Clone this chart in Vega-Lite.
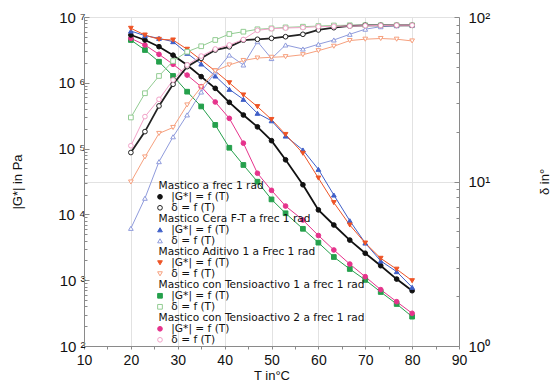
{
"$schema": "https://vega.github.io/schema/vega-lite/v6.json",
"width": 375, "height": 329,
"autosize": {"type": "none"},
"padding": {"left": 84, "top": 17, "right": 97, "bottom": 43},
"background": "white",
"data": {"values": [
{"T":20,"s":"g4","v":4470000},{"T":23,"s":"g4","v":3150000},{"T":26,"s":"g4","v":2090000},{"T":29,"s":"g4","v":1270000},{"T":32,"s":"g4","v":733000},{"T":35,"s":"g4","v":437000},{"T":38,"s":"g4","v":229000},{"T":41,"s":"g4","v":103000},{"T":44,"s":"g4","v":56400},{"T":47,"s":"g4","v":31400},{"T":50,"s":"g4","v":16900},{"T":53,"s":"g4","v":10400},{"T":56.7,"s":"g4","v":6040},{"T":60,"s":"g4","v":3720},{"T":63.3,"s":"g4","v":2250},{"T":66.7,"s":"g4","v":1480},{"T":70,"s":"g4","v":1010},{"T":73.3,"s":"g4","v":662},{"T":76.7,"s":"g4","v":435},{"T":80,"s":"g4","v":279},
{"T":20,"s":"g5","v":4740000},{"T":23,"s":"g5","v":3750000},{"T":26,"s":"g5","v":2710000},{"T":29,"s":"g5","v":1910000},{"T":32,"s":"g5","v":1310000},{"T":35,"s":"g5","v":873000},{"T":38,"s":"g5","v":511000},{"T":41,"s":"g5","v":288000},{"T":44,"s":"g5","v":121000},{"T":47,"s":"g5","v":42200},{"T":50,"s":"g5","v":23200},{"T":53,"s":"g5","v":13400},{"T":56.7,"s":"g5","v":8220},{"T":60,"s":"g5","v":4780},{"T":63.3,"s":"g5","v":2880},{"T":66.7,"s":"g5","v":1760},{"T":70,"s":"g5","v":1130},{"T":73.3,"s":"g5","v":718},{"T":76.7,"s":"g5","v":471},{"T":80,"s":"g5","v":314},
{"T":20,"s":"g1","v":5330000},{"T":23,"s":"g1","v":4470000},{"T":26,"s":"g1","v":3540000},{"T":29,"s":"g1","v":2630000},{"T":32,"s":"g1","v":1860000},{"T":35,"s":"g1","v":1240000},{"T":38,"s":"g1","v":824000},{"T":41,"s":"g1","v":505000},{"T":44,"s":"g1","v":324000},{"T":47,"s":"g1","v":214000},{"T":50,"s":"g1","v":132000},{"T":53,"s":"g1","v":67600},{"T":56.7,"s":"g1","v":28200},{"T":60,"s":"g1","v":11700},{"T":63.3,"s":"g1","v":6900},{"T":66.7,"s":"g1","v":4070},{"T":70,"s":"g1","v":2570},{"T":73.3,"s":"g1","v":1660},{"T":76.7,"s":"g1","v":1040},{"T":80,"s":"g1","v":692},
{"T":20,"s":"g2","v":6120000},{"T":23,"s":"g2","v":5200000},{"T":26,"s":"g2","v":4740000},{"T":29,"s":"g2","v":4220000},{"T":32,"s":"g2","v":2810000},{"T":35,"s":"g2","v":1930000},{"T":38,"s":"g2","v":1270000},{"T":41,"s":"g2","v":796000},{"T":44,"s":"g2","v":561000},{"T":47,"s":"g2","v":344000},{"T":50,"s":"g2","v":265000},{"T":53,"s":"g2","v":155000},{"T":56.7,"s":"g2","v":95300},{"T":60,"s":"g2","v":48400},{"T":63.3,"s":"g2","v":19700},{"T":66.7,"s":"g2","v":8020},{"T":70,"s":"g2","v":3670},{"T":73.3,"s":"g2","v":1960},{"T":76.7,"s":"g2","v":1350},{"T":80,"s":"g2","v":780},
{"T":20,"s":"g3","v":6730000},{"T":23,"s":"g3","v":5320000},{"T":26,"s":"g3","v":4580000},{"T":29,"s":"g3","v":4470000},{"T":32,"s":"g3","v":3230000},{"T":35,"s":"g3","v":2220000},{"T":38,"s":"g3","v":1510000},{"T":41,"s":"g3","v":1000000},{"T":44,"s":"g3","v":653000},{"T":47,"s":"g3","v":434000},{"T":50,"s":"g3","v":277000},{"T":53,"s":"g3","v":164000},{"T":56.7,"s":"g3","v":84900},{"T":60,"s":"g3","v":35700},{"T":63.3,"s":"g3","v":15100},{"T":66.7,"s":"g3","v":6900},{"T":70,"s":"g3","v":3670},{"T":73.3,"s":"g3","v":2150},{"T":76.7,"s":"g3","v":1470},{"T":80,"s":"g3","v":982},
{"T":20,"s":"d4","v":24.5},{"T":23,"s":"d4","v":34.4},{"T":26,"s":"d4","v":43.8},{"T":29,"s":"d4","v":54.0},{"T":32,"s":"d4","v":61.5},{"T":35,"s":"d4","v":66.4},{"T":38,"s":"d4","v":72.5},{"T":41,"s":"d4","v":78.8},{"T":44,"s":"d4","v":81.4},{"T":47,"s":"d4","v":84.2},{"T":50,"s":"d4","v":85.3},{"T":53,"s":"d4","v":86.5},{"T":56.7,"s":"d4","v":87.3},{"T":60,"s":"d4","v":88.1},{"T":63.3,"s":"d4","v":88.8},{"T":66.7,"s":"d4","v":89.1},{"T":70,"s":"d4","v":89.1},{"T":73.3,"s":"d4","v":89.1},{"T":76.7,"s":"d4","v":89.1},{"T":80,"s":"d4","v":89.1},
{"T":20,"s":"d2","v":5.19},{"T":23,"s":"d2","v":7.91},{"T":26,"s":"d2","v":13.2},{"T":29,"s":"d2","v":18.7},{"T":32,"s":"d2","v":25.4},{"T":35,"s":"d2","v":35.0},{"T":38,"s":"d2","v":46.3},{"T":41,"s":"d2","v":58.7},{"T":44,"s":"d2","v":51.1},{"T":47,"s":"d2","v":70.8},{"T":50,"s":"d2","v":55.9},{"T":53,"s":"d2","v":67.6},{"T":56.7,"s":"d2","v":63.9},{"T":60,"s":"d2","v":68.3},{"T":63.3,"s":"d2","v":72.5},{"T":66.7,"s":"d2","v":78.5},{"T":70,"s":"d2","v":84.3},{"T":73.3,"s":"d2","v":87.3},{"T":76.7,"s":"d2","v":88.5},{"T":80,"s":"d2","v":89.1},
{"T":20,"s":"d3","v":9.93},{"T":23,"s":"d3","v":14.1},{"T":26,"s":"d3","v":19.6},{"T":29,"s":"d3","v":21.3},{"T":32,"s":"d3","v":29.2},{"T":35,"s":"d3","v":37.5},{"T":38,"s":"d3","v":47.0},{"T":41,"s":"d3","v":51.1},{"T":44,"s":"d3","v":54.4},{"T":47,"s":"d3","v":56.3},{"T":50,"s":"d3","v":56.9},{"T":53,"s":"d3","v":57.4},{"T":56.7,"s":"d3","v":59.0},{"T":60,"s":"d3","v":62.4},{"T":63.3,"s":"d3","v":66.4},{"T":66.7,"s":"d3","v":71.9},{"T":70,"s":"d3","v":73.3},{"T":73.3,"s":"d3","v":74.0},{"T":76.7,"s":"d3","v":73.3},{"T":80,"s":"d3","v":71.5},
{"T":20,"s":"d1","v":15.0},{"T":23,"s":"d1","v":20.1},{"T":26,"s":"d1","v":28.8},{"T":29,"s":"d1","v":39.0},{"T":32,"s":"d1","v":49.9},{"T":35,"s":"d1","v":56.1},{"T":38,"s":"d1","v":63.0},{"T":41,"s":"d1","v":65.9},{"T":44,"s":"d1","v":72.4},{"T":47,"s":"d1","v":73.2},{"T":50,"s":"d1","v":74.2},{"T":53,"s":"d1","v":75.9},{"T":56.7,"s":"d1","v":78.5},{"T":60,"s":"d1","v":83.4},{"T":63.3,"s":"d1","v":86.1},{"T":66.7,"s":"d1","v":88.2},{"T":70,"s":"d1","v":89.0},{"T":73.3,"s":"d1","v":89.0},{"T":76.7,"s":"d1","v":89.0},{"T":80,"s":"d1","v":89.0},
{"T":20,"s":"d5","v":16.5},{"T":23,"s":"d5","v":24.8},{"T":26,"s":"d5","v":31.6},{"T":29,"s":"d5","v":41.4},{"T":32,"s":"d5","v":51.1},{"T":35,"s":"d5","v":57.9},{"T":38,"s":"d5","v":63.9},{"T":41,"s":"d5","v":67.6},{"T":44,"s":"d5","v":73.0},{"T":47,"s":"d5","v":83.0},{"T":50,"s":"d5","v":84.9},{"T":53,"s":"d5","v":85.7},{"T":56.7,"s":"d5","v":86.3},{"T":60,"s":"d5","v":87.3},{"T":63.3,"s":"d5","v":87.8},{"T":66.7,"s":"d5","v":88.1},{"T":70,"s":"d5","v":88.5},{"T":73.3,"s":"d5","v":88.8},{"T":76.7,"s":"d5","v":89.1},{"T":80,"s":"d5","v":89.1}
]},
"encoding": {
  "x": {"field": "T", "type": "quantitative",
    "scale": {"domain": [10, 90], "nice": false, "zero": false},
    "axis": {"values": [10,15,20,25,30,35,40,45,50,55,60,65,70,75,80,85,90],
      "labelExpr": "datum.value % 10 === 0 ? datum.label : ''",
      "grid": true, "gridColor": "#e2e2e2",
      "gridOpacity": {"condition": {"test": "datum.value % 10 === 0", "value": 1}, "value": 0},
      "tickSize": 3, "labelFontSize": 14, "labelPadding": 4, "labelFlush": false, "labelOverlap": false,
      "title": "T in°C", "titleFontSize": 13, "titleFontWeight": "normal", "titlePadding": 2}},
  "stroke": {"field": "s", "type": "nominal",
    "scale": {"domain": ["h1","g1","d1","h2","g2","d2","h3","g3","d3","h4","g4","d4","h5","g5","d5"],
              "range": ["transparent","#111111","#222222","transparent","#3f5fc8","#8f9bdc","transparent","#ee5426","#f6a07e","transparent","#25a04c","#92cc92","transparent","#e6338c","#f2a3c9"]},
    "legend": {"title": null, "orient": "none", "legendX": 70.7, "legendY": 163.5, "padding": 0, "rowPadding": 0,
      "labelFont": "DejaVu Sans", "labelFontSize": 10.6, "labelOffset": 6, "labelLimit": 400, "symbolSize": 22, "symbolStrokeWidth": 1,
      "labelExpr": "datum.value=='h1'?'Mastico a frec 1 rad':datum.value=='h2'?'Mastico Cera F-T a frec 1 rad':datum.value=='h3'?'Mastico Aditivo 1 a Frec 1 rad':datum.value=='h4'?'Mastico con Tensioactivo 1 a frec 1 rad':datum.value=='h5'?'Mastico con Tensioactivo 2 a frec 1 rad':datum.value[0]=='g'?'|G*| = f (T)':'δ = f (T)'",
      "encode": {"labels": {"update": {"dx": {"signal": "datum.value[0] === 'h' ? -12.7 : 0"}}},
                 "symbols": {"update": {
                   "opacity": {"signal": "datum.value[0] === 'h' ? 0 : 1"},
                   "shape": {"signal": "(datum.value=='g2'||datum.value=='d2') ? 'M-1.9,0.2H-0.95M0.95,0.2H1.9M0,-1.1L1.1,0.8L-1.1,0.8Z' : (datum.value=='g3'||datum.value=='d3') ? 'M-1.9,-0.2H-0.95M0.95,-0.2H1.9M0,1.1L1.1,-0.8L-1.1,-0.8Z' : (datum.value=='g4'||datum.value=='d4') ? 'M-1.9,0H-0.85M0.85,0H1.9M-0.85,-0.85H0.85V0.85H-0.85Z' : 'M-1.9,0H-1M1,0H1.9M-1,0A1,1,0,1,1,1,0A1,1,0,1,1,-1,0Z'"}}}}}}
},
"layer": [
  {
    "transform": [{"filter": "datum.s[0] === 'g'"}],
    "encoding": {
      "y": {"field": "v", "type": "quantitative",
        "scale": {"type": "log", "domain": [100, 10000000], "nice": false},
        "axis": {"orient": "left",
          "values": [100,200,300,400,500,600,700,800,900,1000,2000,3000,4000,5000,6000,7000,8000,9000,10000,20000,30000,40000,50000,60000,70000,80000,90000,100000,200000,300000,400000,500000,600000,700000,800000,900000,1000000,2000000,3000000,4000000,5000000,6000000,7000000,8000000,9000000,10000000],
          "labelExpr": "datum.value==100?'10 ²':datum.value==1000?'10 ³':datum.value==10000?'10 ⁴':datum.value==100000?'10 ⁵':datum.value==1000000?'10 ⁶':datum.value==10000000?'10 ⁷':''",
          "tickSize": {"condition": {"test": "indexof([100,1000,10000,100000,1000000,10000000], datum.value) >= 0", "value": -5}, "value": -3},
          "grid": false, "labelOverlap": false, "labelFlush": false,
          "labelFontSize": 15, "labelPadding": 4,
          "title": "|G*| in Pa", "titleFontSize": 13, "titleFontWeight": "normal", "titlePadding": 33}}
    },
    "layer": [
      {"mark": {"type": "line"},
       "encoding": {"strokeWidth": {"condition": {"test": "datum.s[1] === '1'", "value": 1.8}, "value": 1}}},
      {"mark": {"type": "point", "opacity": 1, "size": 22, "strokeWidth": 1},
       "encoding": {
         "fill": {"field": "s", "type": "nominal",
           "scale": {"domain": ["h1","g1","d1","h2","g2","d2","h3","g3","d3","h4","g4","d4","h5","g5","d5"],
                     "range": ["transparent","#111111","#ffffff","transparent","#3f5fc8","#ffffff","transparent","#ee5426","#ffffff","transparent","#25a04c","#ffffff","transparent","#e6338c","#ffffff"]}},
         "shape": {"field": "s", "type": "nominal",
           "scale": {"domain": ["h1","g1","d1","h2","g2","d2","h3","g3","d3","h4","g4","d4","h5","g5","d5"],
                     "range": ["circle","circle","circle","circle","triangle-up","triangle-up","circle","triangle-down","triangle-down","circle","square","square","circle","circle","circle"]}}
       }}
    ]
  },
  {
    "transform": [{"filter": "datum.s[0] === 'd'"}],
    "encoding": {
      "y": {"field": "v", "type": "quantitative",
        "scale": {"type": "log", "domain": [1, 100], "nice": false},
        "axis": {"orient": "right",
          "values": [1,2,3,4,5,6,7,8,9,10,20,30,40,50,60,70,80,90,100],
          "labelExpr": "datum.value==1?'10⁰':datum.value==10?'10¹':datum.value==100?'10²':''",
          "tickSize": {"condition": {"test": "datum.value==1||datum.value==10||datum.value==100", "value": -5}, "value": -3},
          "grid": true, "gridColor": "#e2e2e2",
          "gridOpacity": {"condition": {"test": "datum.value==1||datum.value==10||datum.value==100", "value": 1}, "value": 0},
          "labelOverlap": false, "labelFlush": false,
          "labelFontSize": 15, "labelPadding": 14,
          "title": "δ in°", "titleAngle": 270, "titleFontSize": 13, "titleFontWeight": "normal", "titlePadding": 62}}
    },
    "layer": [
      {"mark": {"type": "line"},
       "encoding": {"strokeWidth": {"condition": {"test": "datum.s[1] === '1'", "value": 1.8}, "value": 1}}},
      {"mark": {"type": "point", "opacity": 1, "size": 22, "strokeWidth": 1},
       "encoding": {
         "fill": {"field": "s", "type": "nominal",
           "scale": {"domain": ["h1","g1","d1","h2","g2","d2","h3","g3","d3","h4","g4","d4","h5","g5","d5"],
                     "range": ["transparent","#111111","#ffffff","transparent","#3f5fc8","#ffffff","transparent","#ee5426","#ffffff","transparent","#25a04c","#ffffff","transparent","#e6338c","#ffffff"]}},
         "shape": {"field": "s", "type": "nominal",
           "scale": {"domain": ["h1","g1","d1","h2","g2","d2","h3","g3","d3","h4","g4","d4","h5","g5","d5"],
                     "range": ["circle","circle","circle","circle","triangle-up","triangle-up","circle","triangle-down","triangle-down","circle","square","square","circle","circle","circle"]}}
       }}
    ]
  }
],
"resolve": {"scale": {"y": "independent"}},
"config": {
  "view": {"stroke": null},
  "font": "Liberation Sans",
  "axis": {"domainColor": "#8a8a8a", "tickColor": "#8a8a8a", "labelColor": "#111111", "titleColor": "#111111"},
  "legend": {"labelColor": "#111111"}
}
}
